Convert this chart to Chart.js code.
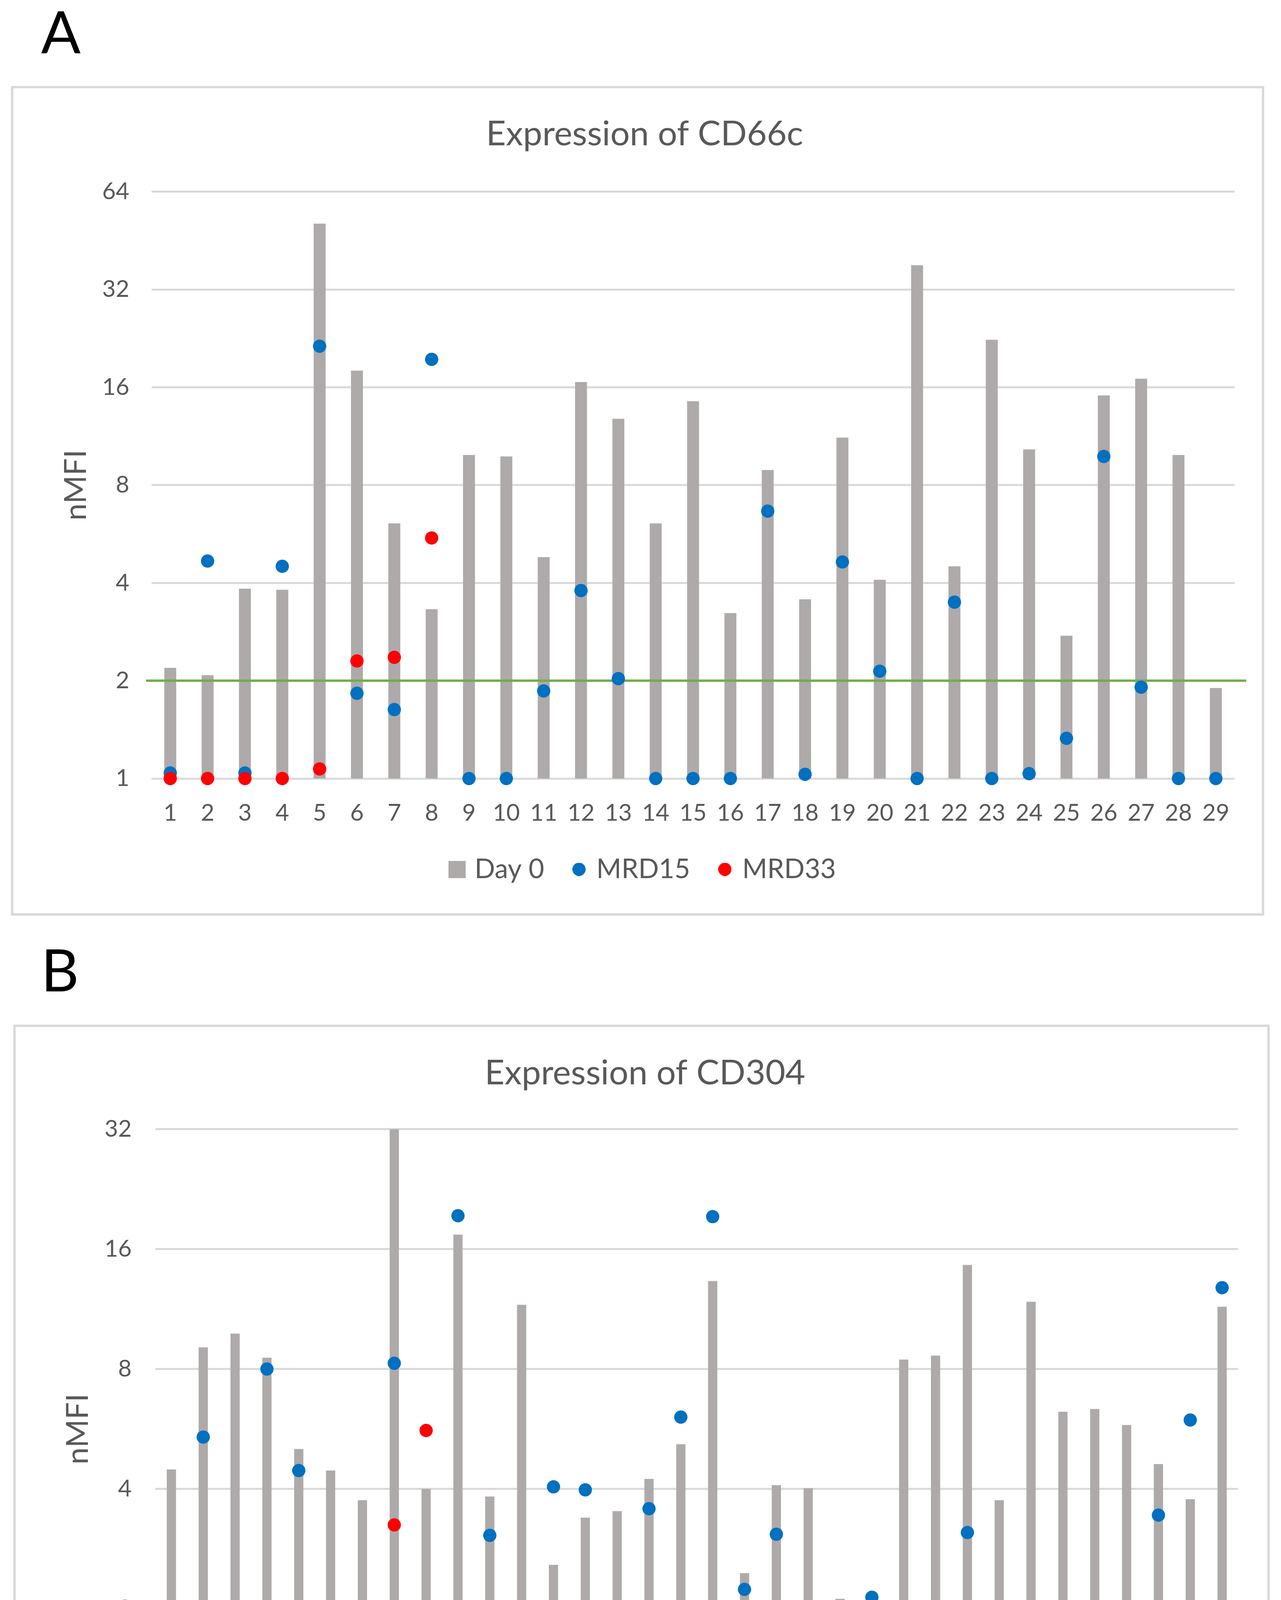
<!DOCTYPE html>
<html>
<head>
<meta charset="utf-8">
<script src="https://cdn.jsdelivr.net/npm/chart.js@4.4.0/dist/chart.umd.min.js"></script>
<style>
    html, body { margin: 0; padding: 0; background: #fff; }
    body { width: 3279px; height: 4805px; position: relative; overflow: hidden; font-family: Lato, sans-serif; }
    .panel-letter { position: absolute; font-size: 150px; line-height: 1; color: #000; }
    .chart-box { position: absolute; border: 6px solid #d9d9d9; box-sizing: border-box; background: #fff; }
    .chart-box canvas { display: block; }
</style>
</head>
<body>
<div class="panel-letter" style="left:105px; top:3px;">A</div>
<div class="chart-box" style="left:28px; top:220px; width:3208px; height:2124px;">
    <canvas id="chartA" width="3196" height="2112"></canvas>
</div>
<div class="panel-letter" style="left:105px; top:2405px;">B</div>
<div class="chart-box" style="left:34px; top:2623px; width:3216px; height:2153px;">
    <canvas id="chartB" width="3204" height="2141"></canvas>
</div>

<script>
/* --- 1. DATA --- */
const cd66cPatients = ['1','2','3','4','5','6','7','8','9','10','11','12','13','14','15',
    '16','17','18','19','20','21','22','23','24','25','26','27','28','29'];
const cd66cDay0 = [2.19, 2.08, 3.84, 3.81, 51, 18.0, 6.1, 3.32, 9.9, 9.8, 4.8, 16.6, 12.8, 6.1, 14.5,
    3.23, 8.9, 3.56, 11.2, 4.09, 38, 4.5, 22.4, 10.3, 2.75, 15.1, 17.0, 9.9, 1.9];
const cd66cMrd15 = [1.04, 4.67, 1.04, 4.5, 21.4, 1.83, 1.63, 19.5, 1, 1, 1.86, 3.79, 2.03, 1, 1,
    1, 6.65, 1.03, 4.64, 2.14, 1, 3.49, 1, 1.035, 1.33, 9.8, 1.91, 1, 1];
const cd66cMrd33 = [1, 1, 1, 1, 1.07, 2.30, 2.36, 5.5];
const cd66cTicks = [1, 2, 4, 8, 16, 32, 64];

const cd304Patients = ['1','2','3','4','5','6','7','8','9','10','11','12','13','14','15','16','17',
    '18','19','20','21','22','23','24','25','26','27','28','29','30','31','32','33','34'];
const cd304Day0 = [4.48, 9.07, 9.82, 8.54, 5.04, 4.45, 3.75, 32, 4.0, 17.4, 3.83, 11.6, 2.58, 3.39, 3.52, 4.24, 5.18,
    13.3, 2.46, 4.09, 4.02, 2.12, 2.0, 8.45, 8.65, 14.6, 3.75, 11.8, 6.25, 6.35, 5.79, 4.62, 3.77, 11.47];
const cd304Mrd15 = [1.41, 5.40, 1.88, 8.0, 4.45, 1.45, 1.53, 8.27, 1, 19.4, 3.06, 1.46, 4.05, 3.98, 1.10, 3.57, 6.06,
    19.3, 2.24, 3.08, 1.55, 1.16, 2.14, 1, 1, 3.11, 1, 1, 1, 1.53, 1.68, 3.44, 5.96, 12.8];
const cd304Mrd33 = [1, 1, 1, 1, 1, 1.25, 1.71, 3.25, 5.61];
const cd304Ticks = [1, 2, 4, 8, 16, 32];

const cutoffValue = 2;

/* --- 2. STYLE --- */
const GREY = '#aeaaaa';
const BLUE = '#0070c0';
const RED = '#ff0000';
const GREEN = '#70ad47';
const TEXT = '#595959';
const FONT = 'Lato';

// small canvases used as legend markers (square for bars, dots for points)
function legendIcon(kind, color, size) {
    const c = document.createElement('canvas');
    c.width = size;
    c.height = size;
    const g = c.getContext('2d');
    g.fillStyle = color;
    if (kind === 'rect') {
        g.fillRect(0, 0, size, size);
    } else {
        g.beginPath();
        g.arc(size / 2, size / 2, size / 2, 0, Math.PI * 2);
        g.fill();
    }
    return c;
}
const legendIcons = [legendIcon('rect', GREY, 44), legendIcon('dot', BLUE, 34), legendIcon('dot', RED, 34)];

// green cut-off line, drawn right after the bars so the dots sit on top
const cutoffLine = {
    id: 'cutoffLine',
    afterDatasetDraw(chart, args, opts) {
        if (args.index !== 0) return;
        const y = chart.scales.y.getPixelForValue(opts.value);
        const { left, right } = chart.chartArea;
        const ctx = chart.ctx;
        ctx.save();
        ctx.strokeStyle = opts.color;
        ctx.lineWidth = opts.width;
        ctx.beginPath();
        ctx.moveTo(left - opts.extendLeft, y);
        ctx.lineTo(right + opts.extendRight, y);
        ctx.stroke();
        ctx.restore();
    }
};

/* --- 3. CHART BUILDER --- */
function buildChart(canvasId, cfg, box) {
    const pointSet = (label, data, color, order) => ({
        type: 'line',
        label,
        data,
        showLine: false,
        pointStyle: 'circle',
        pointRadius: 17,
        pointHoverRadius: 17,
        pointBorderWidth: 0,
        pointBackgroundColor: color,
        backgroundColor: color,
        borderColor: color,
        clip: false,
        order
    });

    return new Chart(document.getElementById(canvasId), {
        type: 'bar',
        data: {
            labels: cfg.labels,
            datasets: [
                {
                    label: 'Day 0',
                    data: cfg.day0,
                    backgroundColor: GREY,
                    barPercentage: box.barPct,
                    categoryPercentage: 1,
                    order: 3
                },
                pointSet('MRD15', cfg.mrd15, BLUE, 2),
                pointSet('MRD33', cfg.mrd33, RED, 1)
            ]
        },
        plugins: [cutoffLine],
        options: {
            responsive: false,
            devicePixelRatio: 1,
            animation: false,
            events: [],
            layout: { padding: box.padding },
            plugins: {
                tooltip: { enabled: false },
                title: {
                    display: true,
                    text: cfg.title,
                    color: TEXT,
                    font: { family: FONT, size: 88, weight: 'normal' },
                    padding: { top: box.titleTop, bottom: box.titleBottom }
                },
                legend: {
                    position: 'bottom',
                    labels: {
                        usePointStyle: true,
                        boxWidth: 20,
                        padding: 79,
                        color: TEXT,
                        font: { family: FONT, size: 69 },
                        sort: (a, b) => a.datasetIndex - b.datasetIndex,
                        generateLabels(chart) {
                            const items = Chart.defaults.plugins.legend.labels.generateLabels(chart);
                            items.forEach(it => { it.pointStyle = legendIcons[it.datasetIndex]; });
                            return items;
                        }
                    }
                },
                cutoffLine: {
                    value: cutoffValue,
                    color: GREEN,
                    width: 6,
                    extendLeft: box.lineLeft,
                    extendRight: box.lineRight
                }
            },
            scales: {
                x: {
                    type: 'category',
                    offset: true,
                    grid: { display: false },
                    border: { display: false },
                    ticks: {
                        autoSkip: false,
                        maxRotation: 0,
                        minRotation: 0,
                        padding: box.xTickPad,
                        color: TEXT,
                        font: { family: FONT, size: 60 }
                    },
                    afterFit: s => { s.height = box.xHeight; }
                },
                y: {
                    type: 'logarithmic',
                    min: cfg.ticks[0],
                    max: cfg.ticks[cfg.ticks.length - 1],
                    grid: { color: '#d9d9d9', lineWidth: 5, drawTicks: false },
                    border: { display: false },
                    ticks: {
                        padding: box.yTickPad,
                        color: TEXT,
                        font: { family: FONT, size: 60 },
                        callback: v => String(v)
                    },
                    afterBuildTicks: s => { s.ticks = cfg.ticks.map(v => ({ value: v })); },
                    afterFit: s => { s.width = box.yWidth; },
                    title: {
                        display: true,
                        text: 'nMFI',
                        color: TEXT,
                        font: { family: FONT, size: 78 },
                        padding: { top: box.yTitlePad, bottom: 0 }
                    }
                }
            }
        }
    });
}

/* --- 4. INIT --- */
buildChart('chartA', {
    title: 'Expression of CD66c',
    labels: cd66cPatients,
    day0: cd66cDay0,
    mrd15: cd66cMrd15,
    mrd33: cd66cMrd33,
    ticks: cd66cTicks
}, {
    padding: { left: 106, right: 70, top: 0, bottom: 68 },
    titleTop: 65, titleBottom: 94,
    xTickPad: 45, xHeight: 119,
    yTickPad: 57, yWidth: 248, yTitlePad: 8,
    barPct: 0.32,
    lineLeft: 14, lineRight: 30
});

buildChart('chartB', {
    title: 'Expression of CD304',
    labels: cd304Patients,
    day0: cd304Day0,
    mrd15: cd304Mrd15,
    mrd33: cd304Mrd33,
    ticks: cd304Ticks
}, {
    padding: { left: 93, right: 75, top: 0, bottom: 67 },
    titleTop: 66, titleBottom: 90,
    xTickPad: 44, xHeight: 119,
    yTickPad: 61, yWidth: 265, yTitlePad: 20,
    barPct: 0.29,
    lineLeft: 24, lineRight: 13
});
</script>
</body>
</html>
